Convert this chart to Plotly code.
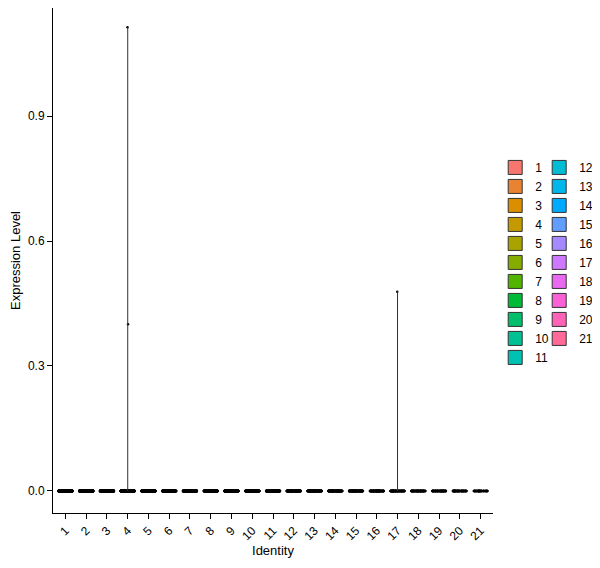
import plotly.graph_objects as go

# clusters (identities) and their colours (ggplot hue palette, 21 levels)
clusters = [str(i) for i in range(1, 22)]
colors = ['#F8766D', '#EA8331', '#DB8E00', '#C49A00', '#A9A300', '#86AC00', '#53B400',
          '#00BA38', '#00BE6C', '#00C094', '#00C1B2', '#00BDD4', '#00B6EB', '#00AAFE',
          '#619CFF', '#A58AFF', '#CF78FF', '#EA69F1', '#FB61D7', '#FF63B8', '#FF6A98']

# cells per cluster (nearly all with zero expression)
cell_counts = [520, 480, 450, 430, 400, 380, 350, 300, 280, 260, 240,
               200, 180, 160, 150, 130, 110, 100, 90, 80, 60]
# the few non-zero expression values
nonzero_values = {'4': [0.40, 1.113], '17': [0.478]}

# one long table of (cluster, value) for the jittered points
pt_x, pt_y = [], []
for c, n in zip(clusters, cell_counts):
    nz = nonzero_values.get(c, [])
    vals = [0.0] * (n - len(nz)) + nz
    pt_x += [c] * len(vals)
    pt_y += vals

# violin tails (the violins are squashed to a line where density is ~0)
tail_x, tail_y = [], []
for c, nz in nonzero_values.items():
    tail_x += [c, c, None]
    tail_y += [0, max(nz), None]

fig = go.Figure()

fig.add_trace(go.Scatter(
    x=tail_x, y=tail_y, mode='lines',
    line=dict(color='#333333', width=1),
    showlegend=False, hoverinfo='skip'
))

fig.add_trace(go.Box(
    x=pt_x, y=pt_y,
    boxpoints='all', jitter=1, pointpos=0,
    marker=dict(color='black', size=2.5),
    line=dict(width=0, color='rgba(0,0,0,0)'),
    fillcolor='rgba(0,0,0,0)',
    showlegend=False, hoverinfo='skip'
))

# legend entries, split over two columns like the original
for i, (c, col) in enumerate(zip(clusters, colors)):
    fig.add_trace(go.Scatter(
        x=[None], y=[None], mode='markers', name=c,
        marker=dict(symbol='square', size=14, color=col,
                    line=dict(color='#333333', width=1)),
        legend='legend' if i < 11 else 'legend2'
    ))

legend_style = dict(
    font=dict(size=12, color='black'),
    bgcolor='rgba(0,0,0,0)',
    itemclick=False, itemdoubleclick=False,
    yanchor='top', y=0.713, xanchor='left',
    tracegroupgap=0,
)

fig.update_layout(
    width=600, height=568,
    plot_bgcolor='white',
    paper_bgcolor='white',
    font=dict(family='Liberation Sans, Arial', size=12, color='black'),
    margin=dict(l=45, r=115, t=0, b=63, autoexpand=False),
    boxgap=0.04,
    legend=dict(x=1.005, **legend_style),
    legend2=dict(x=1.105, **legend_style),
    xaxis=dict(
        title=dict(text='Identity', font=dict(size=13), standoff=0),
        type='category',
        categoryorder='array', categoryarray=clusters,
        range=[-0.6, 20.6],
        tickangle=-45,
        tickfont=dict(size=12),
        showline=True, linecolor='black', linewidth=1,
        ticks='outside', ticklen=5, tickcolor='black',
        showgrid=False, zeroline=False, automargin=False,
    ),
    yaxis=dict(
        title=dict(text='Expression Level', font=dict(size=13), standoff=8),
        range=[-0.053, 1.1595],
        tickvals=[0, 0.3, 0.6, 0.9],
        tickformat='.1f',
        tickfont=dict(size=12),
        showline=True, linecolor='black', linewidth=1,
        ticks='outside', ticklen=5, tickcolor='black',
        showgrid=False, zeroline=False, automargin=False,
    ),
)

fig.write_html("out.html")
